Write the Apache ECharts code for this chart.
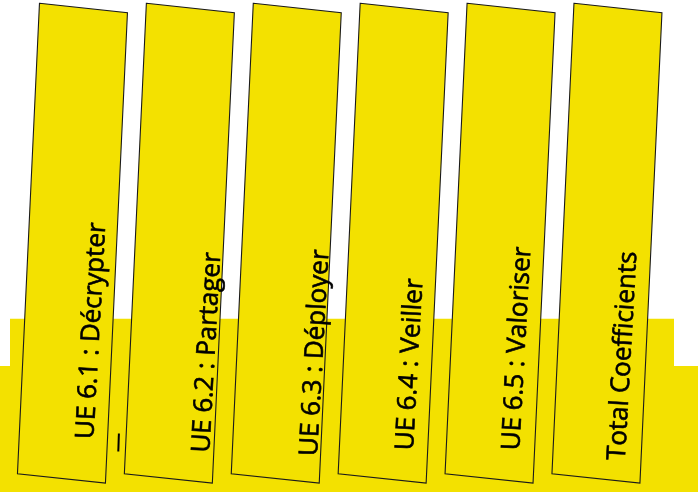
<!DOCTYPE html>
<html>
<head>
<meta charset="utf-8">
<script src="https://cdn.jsdelivr.net/npm/echarts@6/dist/echarts.min.js"></script>
<style>
  html, body { margin: 0; padding: 0; background: #ffffff; }
  #chart { width: 698px; height: 492px; }
</style>
</head>
<body>
<div id="chart"></div>
<script>
// ---- data ----
const categories = ['UE 6.1 : Décrypter', 'UE 6.2 : Partager', 'UE 6.3 : Déployer', 'UE 6.4 : Veiller', 'UE 6.5 : Valoriser', 'Total Coefficients'];
const values = [1, 1, 1, 1, 1, 1];

// ---- layout (label start offsets from each card's bottom centre, px) ----
const labelOffsets = [[24.5, -34.7], [33.4, -21], [34.4, -17.7], [23.4, -23.4], [22.7, -23.4], [21.5, -13.7]];

const YELLOW = '#F3E100';
const FONT = '"Open Sans"';

// fit font size so the first label spans ~217px
const cv = document.createElement('canvas').getContext('2d');
cv.font = '100px ' + FONT;
const fontSize = 100 * 217 / cv.measureText(categories[0]).width;

const chart = echarts.init(document.getElementById('chart'), null, { renderer: 'canvas' });

const option = {
  animation: false,
  backgroundColor: '#ffffff',
  grid: { left: 19, right: 37.6, top: 3.3, bottom: 18.3, containLabel: false },
  xAxis: { type: 'category', data: categories, show: false, boundaryGap: true },
  yAxis: { type: 'value', min: 0, max: 1, show: false },
  graphic: [
    { type: 'rect', z: 0, shape: { x: 10, y: 318.7, width: 664, height: 180 }, style: { fill: YELLOW } },
    { type: 'rect', z: 0, shape: { x: 0, y: 366, width: 698, height: 130 }, style: { fill: YELLOW } },
    { type: 'line', z: 10, shape: { x1: 118.9, y1: 433.5, x2: 118.3, y2: 451.5 }, style: { stroke: '#000', lineWidth: 2 } }
  ],
  series: [{
    type: 'custom',
    clip: false,
    z: 5,
    data: values.map((v, i) => [i, v]),
    renderItem: function (params, api) {
      const i = api.value(0);
      const top = api.coord([i, api.value(1)]);
      const bot = api.coord([i, 0]);
      const bw = api.size([1, 0])[0];
      const cx = top[0];
      const yT = top[1], yB = bot[1];
      const h = yB - yT;
      const w = bw * 0.823;
      const lean = h * 0.0234;      // side lean (top shifted right)
      const tilt = w * 0.107;       // top/bottom edge drop to the right
      const pts = [
        [cx + lean - w / 2, yT],
        [cx + lean + w / 2, yT + tilt],
        [cx - lean + w / 2, yB + tilt],
        [cx - lean - w / 2, yB]
      ];
      const off = labelOffsets[i];
      return {
        type: 'group',
        children: [
          {
            type: 'polygon',
            shape: { points: pts },
            style: { fill: YELLOW, stroke: '#1a1a1a', lineWidth: 1.1 }
          },
          {
            type: 'text',
            x: cx - lean + off[0],
            y: yB + off[1],
            rotation: (90 - 3.2) * Math.PI / 180,
            style: {
              text: categories[i],
              fill: '#000000',
              stroke: '#000000',
              lineWidth: 0.6,
              fontSize: fontSize,
              fontFamily: FONT,
              align: 'left',
              verticalAlign: 'middle',
              textAlign: 'left',
              textVerticalAlign: 'middle'
            },
            z2: 10
          }
        ]
      };
    }
  }]
};
chart.setOption(option);
</script>
</body>
</html>
